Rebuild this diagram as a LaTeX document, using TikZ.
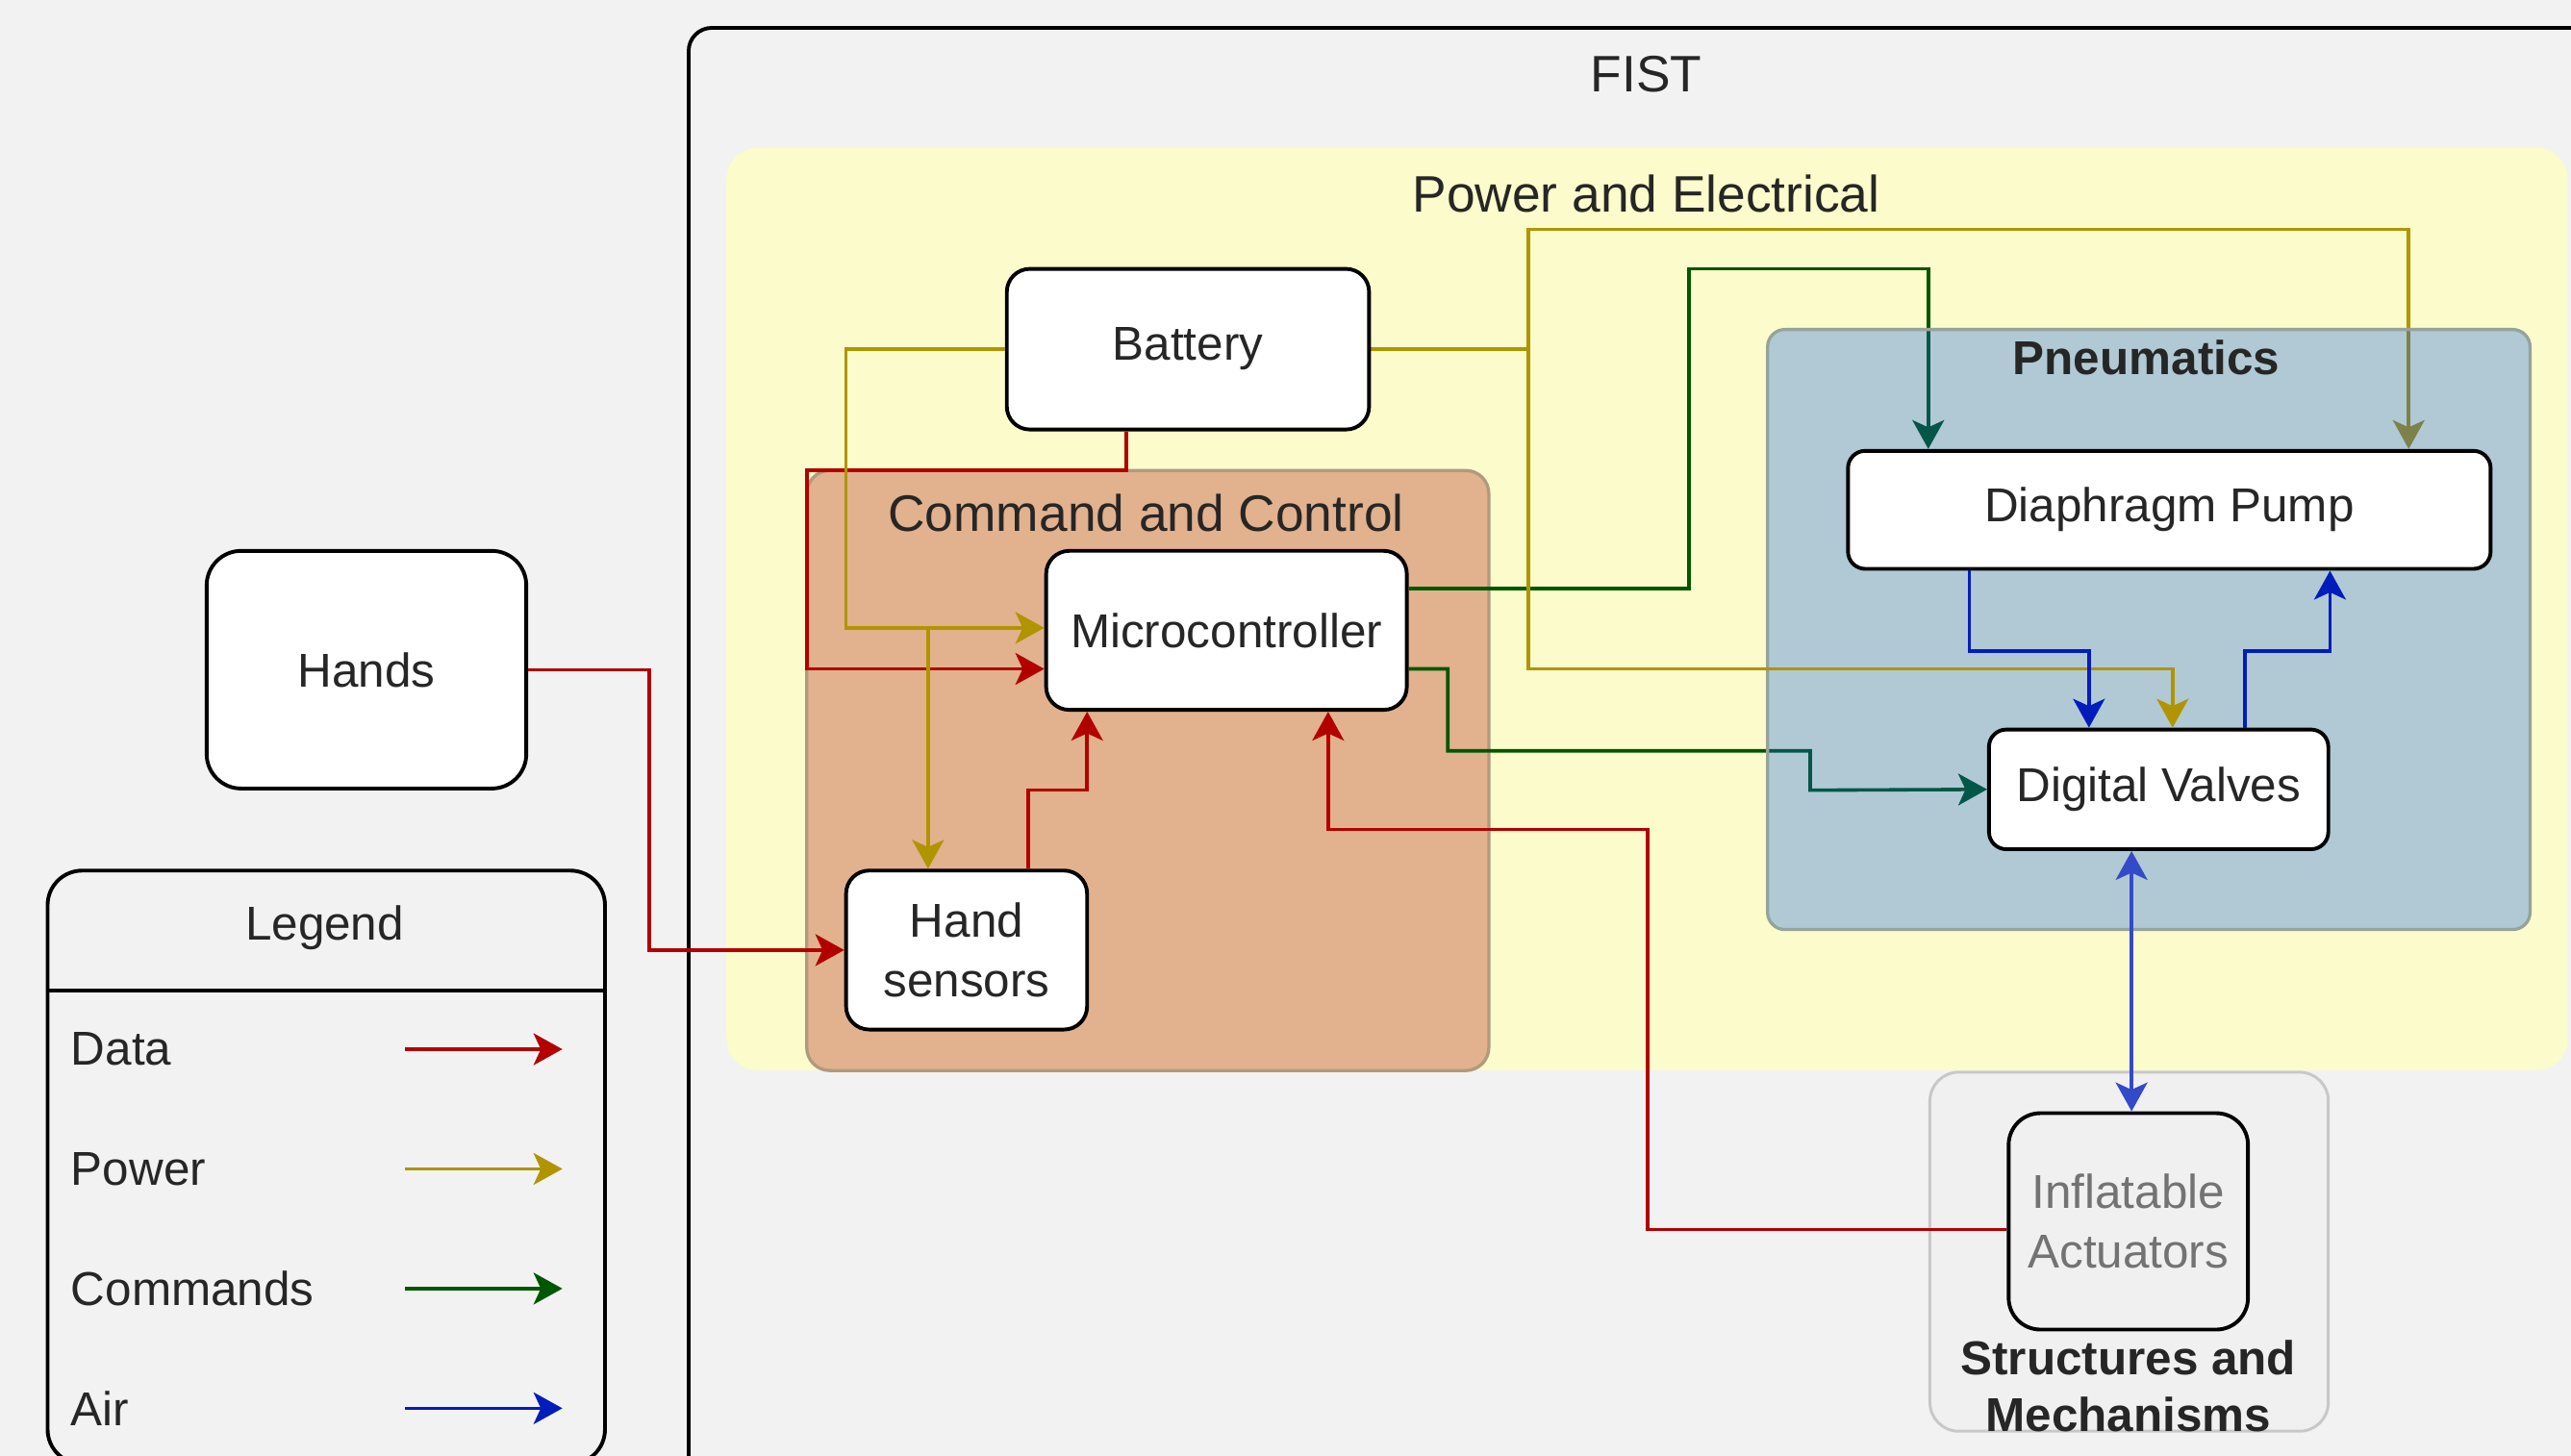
\documentclass[tikz,border=0pt]{standalone}
\usepackage{fontspec}
\setmainfont{Liberation Sans}
\usetikzlibrary{arrows.meta}
\definecolor{bggray}{HTML}{F2F2F2}
\definecolor{powerbg}{HTML}{FBFBCC}
\definecolor{ccfill}{HTML}{E2B18E}
\definecolor{ccedge}{HTML}{B09A7C}
\definecolor{pneufill}{HTML}{0A5AEC}
\definecolor{pneuedge}{HTML}{96A39A}
\definecolor{smedge}{HTML}{C8C8C8}
\definecolor{iafill}{HTML}{F0F0F0}
\definecolor{datared}{HTML}{B20000}
\definecolor{powergold}{HTML}{B09500}
\definecolor{cmdgreen}{HTML}{005700}
\definecolor{airblue}{HTML}{001DBC}
\pgfdeclarelayer{background}
\pgfdeclarelayer{wires}
\pgfdeclarelayer{tint}
\pgfsetlayers{background,wires,tint,main}
\tikzset{
  box/.style={draw, line width=1.3pt, fill=white, rounded corners=8pt, align=center,
    font=\fontsize{16.5}{20.5}\selectfont, text=black!85},
  title/.style={font=\fontsize{17.8}{21}\selectfont, text=black!85},
  boldtitle/.style={font=\bfseries\fontsize{16.5}{20}\selectfont, text=black!85, align=center},
  legtext/.style={anchor=west, inner sep=0pt, font=\fontsize{16.5}{20}\selectfont, text=black!85},
  wire/.style={line width=1.2pt, ->},
  data/.style={wire, datared},
  power/.style={wire, powergold},
  cmd/.style={wire, cmdgreen},
  air/.style={wire, airblue},
}
\begin{document}
\begin{tikzpicture}[x=0.02cm, y=-0.02cm, >={Stealth[length=10pt, width=11pt, inset=2.5pt]}]
    \useasboundingbox (0,0) rectangle (1568,888);
    % Bereiche
    \begin{pgfonlayer}{background}
        \fill[bggray] (0,0) rectangle (1568,888);
        \draw[line width=1.3pt, rounded corners=8pt] (420,17) rectangle (1620,905);
        \fill[powerbg, rounded corners=11pt] (443,90) rectangle (1566,653);
        \filldraw[fill=ccfill, draw=ccedge, line width=1.1pt, rounded corners=8pt] (492,287) rectangle (908,653);
        \filldraw[fill=iafill, draw=smedge, line width=1pt, rounded corners=10pt] (1177,654) rectangle (1420,873);
    \end{pgfonlayer}
    \begin{pgfonlayer}{tint}
        \fill[pneufill, fill opacity=0.31, rounded corners=6pt] (1078,201) rectangle (1543,567);
        \draw[pneuedge, line width=1.1pt, rounded corners=6pt] (1078,201) rectangle (1543,567);
    \end{pgfonlayer}
    % Titel
    \node[title] (fisttitle) at (1004,45) {FIST};
    \node[title] (pwrtitle) at (1004,118) {Power and Electrical};
    \node[title] (cctitle) at (699,313) {Command and Control};
    \node[boldtitle] (pneutitle) at (1309,218) {Pneumatics};
    \node[boldtitle] (smtitle) at (1298,845.5) {Structures and\\Mechanisms};
    % Bausteine
    \node[box, minimum width=4.42cm, minimum height=1.96cm] (bat) at (724.5,213) {Battery};
    \node[box, minimum width=4.40cm, minimum height=1.94cm] (mcu) at (748,384.5) {Microcontroller};
    \node[box, minimum width=2.94cm, minimum height=1.94cm] (hs) at (589.5,579.5) {Hand\\sensors};
    \node[box, minimum width=3.90cm, minimum height=2.90cm, rounded corners=12pt] (hands) at (223.5,408.5) {Hands};
    \node[box, minimum width=7.84cm, minimum height=1.44cm, rounded corners=6pt] (dp) at (1323,311) {Diaphragm Pump};
    \node[box, minimum width=4.14cm, minimum height=1.46cm, rounded corners=6pt] (dv) at (1316.5,481.5) {Digital Valves};
    \node[box, minimum width=2.92cm, minimum height=2.64cm, rounded corners=11pt, fill=iafill, text=black!55] (ia) at (1298,745) {Inflatable\\Actuators};
    % Legende
    \node[box, minimum width=6.80cm, minimum height=7.24cm, rounded corners=12pt, fill=none] (legend) at (199,712) {};
    \draw[line width=1.3pt] (legend.west |- 0,604) -- (legend.east |- 0,604);
    \node[title, font=\fontsize{16.5}{20}\selectfont] (legtitle) at (198,566) {Legend};
    \node[legtext] (legdata) at (43,640) {Data};
    \draw[data] (247,640) -- (343,640);
    \node[legtext] (legpower) at (43,713) {Power};
    \draw[power] (247,713) -- (343,713);
    \node[legtext] (legcmd) at (43,786) {Commands};
    \draw[cmd] (247,786) -- (343,786);
    \node[legtext] (legair) at (43,859) {Air};
    \draw[air] (247,859) -- (343,859);
    % Hilfspunkte
    \coordinate (pwrjoin) at (bat.east -| 932,0);
    \coordinate (pwrsplit) at (566,383);
    % Befehle (unter Pneumatik)
    \begin{pgfonlayer}{wires}
        \draw[cmd] (mcu.east |- 0,359) -| (1030,164) -| (dp.north -| 1176,0);
        \draw[cmd] (mcu.east |- 0,408) -| (883,458) -| (1104,482) -- (dv.west);
        \draw[power] (bat.east) -- (pwrjoin) |- (1469,140) -- (dp.north -| 1469,0);
    \end{pgfonlayer}
    % Daten
    \draw[data] (bat.south -| 687,0) |- (492,287) |- (mcu.west |- 0,408);
    \draw[data] (hands.east) -- ++(74,0) |- (hs.west);
    \draw[data] (hs.north -| 627,0) |- (663,482) -- (mcu.south -| 663,0);
    \draw[data] (ia.west |- 0,750) -| (1005,506) -| (mcu.south -| 810,0);
    % Energie
    \draw[power] (bat.west) -| (516,383) -- (mcu.west |- 0,383);
    \draw[power] (pwrsplit) -- (hs.north -| 566,0);
    \draw[power] (pwrjoin) |- (1325,408) -- (dv.north -| 1325,0);
    % Luft
    \draw[air] (dp.south -| 1201,0) |- (1274,397) -- (dv.north -| 1274,0);
    \draw[air] (dv.north -| 1369,0) |- (1421,397) -- (dp.south -| 1421,0);
    \draw[air, <->, airblue!80!white] (dv.south -| 1300,0) -- (ia.north -| 1300,0);
\end{tikzpicture}
\end{document}
